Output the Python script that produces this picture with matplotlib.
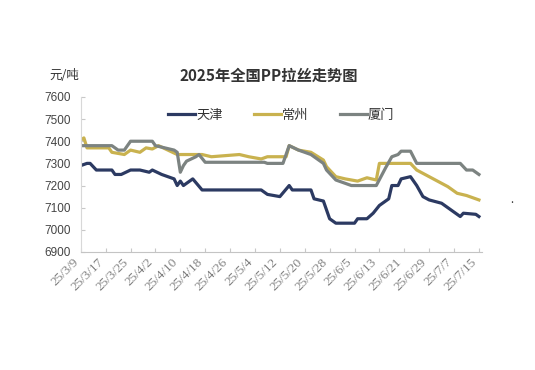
import pandas as pd
import matplotlib
matplotlib.use('Agg')
import matplotlib.pyplot as plt

plt.rcParams['font.family'] = ['Noto Sans CJK SC', 'DejaVu Sans']

# 天津
tj_datas = ['2025-03-09', '2025-03-11', '2025-03-12', '2025-03-14', '2025-03-19', '2025-03-20',
            '2025-03-22', '2025-03-25', '2025-03-28', '2025-03-31', '2025-04-01', '2025-04-04',
            '2025-04-08', '2025-04-09', '2025-04-10', '2025-04-11', '2025-04-14', '2025-04-17',
            '2025-05-06', '2025-05-08', '2025-05-12', '2025-05-15', '2025-05-16', '2025-05-22',
            '2025-05-23', '2025-05-26', '2025-05-28', '2025-05-30', '2025-06-05', '2025-06-06',
            '2025-06-09', '2025-06-11', '2025-06-13', '2025-06-16', '2025-06-17', '2025-06-19',
            '2025-06-20', '2025-06-23', '2025-06-25', '2025-06-27', '2025-06-29', '2025-07-03',
            '2025-07-04', '2025-07-09', '2025-07-10', '2025-07-14', '2025-07-15']
tj_precos = [7290, 7300, 7300, 7270, 7270, 7250,
             7250, 7270, 7270, 7260, 7270, 7250,
             7230, 7200, 7220, 7200, 7230, 7180,
             7180, 7160, 7150, 7200, 7180, 7180,
             7140, 7130, 7050, 7030, 7030, 7050,
             7050, 7075, 7110, 7140, 7200, 7200,
             7230, 7240, 7200, 7150, 7135, 7120,
             7110, 7060, 7075, 7070, 7060]

# 常州
cz_datas = ['2025-03-09', '2025-03-10', '2025-03-11', '2025-03-18', '2025-03-19', '2025-03-23',
            '2025-03-25', '2025-03-28', '2025-03-30', '2025-04-01', '2025-04-03', '2025-04-06',
            '2025-04-09', '2025-04-17', '2025-04-20', '2025-04-29', '2025-05-02', '2025-05-06',
            '2025-05-08', '2025-05-14', '2025-05-15', '2025-05-18', '2025-05-22', '2025-05-26',
            '2025-05-27', '2025-05-30', '2025-06-02', '2025-06-06', '2025-06-09', '2025-06-12',
            '2025-06-13', '2025-06-23', '2025-06-25', '2025-06-27', '2025-07-01', '2025-07-05',
            '2025-07-08', '2025-07-11', '2025-07-15']
cz_precos = [7405, 7415, 7370, 7370, 7350, 7340,
             7360, 7350, 7370, 7365, 7380, 7360,
             7340, 7340, 7330, 7340, 7330, 7320,
             7330, 7330, 7380, 7360, 7350, 7315,
             7285, 7240, 7230, 7220, 7235, 7225,
             7300, 7300, 7270, 7255, 7225, 7195,
             7165, 7155, 7135]

# 厦门
xm_datas = ['2025-03-09', '2025-03-19', '2025-03-21', '2025-03-23', '2025-03-25', '2025-04-01',
            '2025-04-02', '2025-04-05', '2025-04-08', '2025-04-09', '2025-04-10', '2025-04-11',
            '2025-04-12', '2025-04-15', '2025-04-16', '2025-04-18', '2025-05-07', '2025-05-08',
            '2025-05-13', '2025-05-15', '2025-05-18', '2025-05-22', '2025-05-26', '2025-05-27',
            '2025-05-30', '2025-06-02', '2025-06-04', '2025-06-12', '2025-06-15', '2025-06-17',
            '2025-06-19', '2025-06-20', '2025-06-23', '2025-06-25', '2025-07-09', '2025-07-11',
            '2025-07-13', '2025-07-15']
xm_precos = [7380, 7380, 7360, 7360, 7400, 7400,
             7380, 7370, 7360, 7350, 7260, 7290,
             7310, 7330, 7340, 7305, 7305, 7300,
             7300, 7380, 7360, 7340, 7300, 7270,
             7225, 7210, 7200, 7200, 7280, 7330,
             7340, 7355, 7355, 7300, 7300, 7270,
             7270, 7250]

ticks_datas = ['2025-03-09', '2025-03-17', '2025-03-25', '2025-04-02', '2025-04-10', '2025-04-18',
               '2025-04-26', '2025-05-04', '2025-05-12', '2025-05-20', '2025-05-28', '2025-06-05',
               '2025-06-13', '2025-06-21', '2025-06-29', '2025-07-07', '2025-07-15']
ticks_rotulos = ['25/3/9', '25/3/17', '25/3/25', '25/4/2', '25/4/10', '25/4/18',
                 '25/4/26', '25/5/4', '25/5/12', '25/5/20', '25/5/28', '25/6/5',
                 '25/6/13', '25/6/21', '25/6/29', '25/7/7', '25/7/15']
y_ticks = [6900, 7000, 7100, 7200, 7300, 7400, 7500, 7600]

fig = plt.figure(figsize=(5.35, 3.7), dpi=100)
ax = fig.add_axes([0.151, 0.319, 0.750, 0.419])

ax.plot(pd.to_datetime(tj_datas), tj_precos, color='#2c3a62', lw=2.3, label='天津')
ax.plot(pd.to_datetime(cz_datas), cz_precos, color='#c9b24f', lw=2.3, label='常州')
ax.plot(pd.to_datetime(xm_datas), xm_precos, color='#7c8381', lw=2.3, label='厦门')

ax.set_xlim(pd.Timestamp('2025-03-09'), pd.Timestamp('2025-07-16'))
ax.set_ylim(6900, 7600)
ax.set_yticks(y_ticks)
ax.set_yticklabels([str(v) for v in y_ticks], fontsize=8.5, color='#444444', family='Liberation Sans')
ax.set_xticks(pd.to_datetime(ticks_datas))
ax.set_xticklabels(ticks_rotulos, rotation=45, ha='right', fontsize=9.5, color='#808080',
                   family='Liberation Serif')
ax.tick_params(axis='both', direction='in', length=3, color='#c8c8c8')
ax.tick_params(axis='y', pad=7)
ax.tick_params(axis='x', pad=3)

for s in ['top', 'right']:
    ax.spines[s].set_visible(False)
ax.spines['left'].set_color('#d8d8d8')
ax.spines['bottom'].set_color('#c4c4c4')

ax.legend(loc='upper center', bbox_to_anchor=(0.5, 1.0), ncol=3, frameon=False, fontsize=9.5,
          handlelength=2.0, handletextpad=0.1, columnspacing=2.4, labelcolor='#333333')

fig.text(0.503, 0.795, '2025年全国PP拉丝走势图', ha='center', va='center', fontsize=11,
         fontweight='bold', color='#333333')
fig.text(0.092, 0.797, '元/吨', ha='left', va='center', fontsize=9, color='#333333')
fig.text(0.957, 0.46, '.', ha='center', va='center', fontsize=8, color='#333333')

fig.savefig('out.png', dpi=100)
